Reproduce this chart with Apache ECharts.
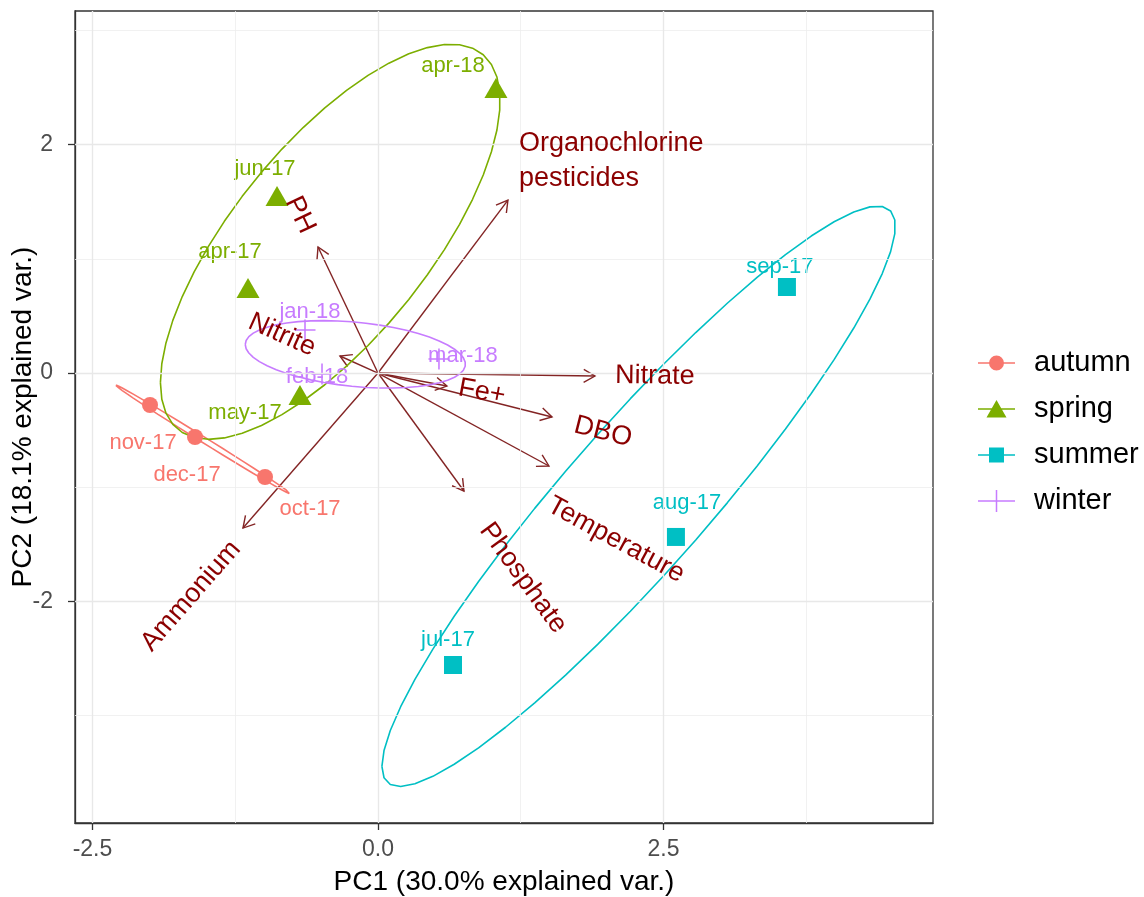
<!DOCTYPE html>
<html><head><meta charset="utf-8">
<script src="https://cdn.jsdelivr.net/npm/echarts@6/dist/echarts.min.js"></script>
<style>html,body{margin:0;padding:0;background:#fff}#chart{width:1144px;height:897px}</style>
</head><body><div id="chart"></div>
<script>
// ---------------- DATA ----------------
const groups = ['autumn', 'spring', 'summer', 'winter'];

const autumnNames = ['nov-17', 'dec-17', 'oct-17'];
const autumnPC1 = [-1.996, -1.602, -0.989];
const autumnPC2 = [-0.280, -0.560, -0.910];

const springNames = ['apr-18', 'jun-17', 'apr-17', 'may-17'];
const springPC1 = [1.033, -0.884, -1.138, -0.683];
const springPC2 = [2.495, 1.549, 0.744, -0.193];

const summerNames = ['sep-17', 'aug-17', 'jul-17'];
const summerPC1 = [3.581, 2.609, 0.657];
const summerPC2 = [0.753, -1.435, -2.556];

const winterNames = ['jan-18', 'feb-18', 'mar-18'];
const winterPC1 = [-0.639, -0.490, 0.534];
const winterPC2 = [0.376, -0.009, 0.123];

const varNames = ['Organochlorine\npesticides', 'PH', 'Nitrite', 'Nitrate', 'Fe+', 'DBO', 'Temperature', 'Phosphate', 'Ammonium'];
const varPC1 = [1.138, -0.525, -0.333, 1.900, 0.604, 1.524, 1.497, 0.753, -1.182];
const varPC2 = [1.514, 1.103, 0.149, -0.026, -0.114, -0.385, -0.814, -1.033, -1.357];

const xTicks = [-2.5, 0, 2.5];
const xTickLabels = ['-2.5', '0.0', '2.5'];
const yTicks = [-2, 0, 2];
const yTickLabels = ['-2', '0', '2'];
const xMinor = [-1.25, 1.25, 3.75];
const yMinor = [-3, -1, 1, 3];

const ellipseProb = 0.68;

// ---------------- STYLE ----------------
const FONT = '"Liberation Sans", Arial, sans-serif';
const groupColors = { autumn: '#F8766D', spring: '#7CAE00', summer: '#00BFC4', winter: '#C77CFF' };
const plusPath = 'path://M9.25,0 H10.75 V9.25 H20 V10.75 H10.75 V20 H9.25 V10.75 H0 V9.25 H9.25 Z';
const groupSymbols = {
  autumn: { symbol: 'circle', size: 16 },
  spring: { symbol: 'triangle', size: [23, 20] },
  summer: { symbol: 'rect', size: 18 },
  winter: { symbol: plusPath, size: 21 }
};
// sample label nudges in pixels [dx, dy]
const labelNudge = {
  'apr-18': [-43, -22], 'jun-17': [-12, -27], 'apr-17': [-18, -36], 'may-17': [-55, 18],
  'nov-17': [-7, 38], 'dec-17': [-8, 38], 'oct-17': [45, 32],
  'jan-18': [5, -18], 'feb-18': [-5, 3], 'mar-18': [24, -3],
  'sep-17': [-7, -20], 'aug-17': [11, -34], 'jul-17': [-5, -25]
};
// variable-name label centre offsets from arrow tip, pixels [dx, dy] (same order as varNames)
const varLabelNudge = [[11, -4], [-18, -32], [-58, -21], [60, 0], [35, 6], [51, 15], [67, 74], [59, 87], [-52, 68]];

const dot = 'M0,0 h0.01 v0.01 h-0.01 Z M36.99,21.99 h0.01 v0.01 h-0.01 Z ';
const lineBar = 'M0,10.25 H37 V11.75 H0 Z ';
const legendIcons = {
  autumn: 'path://' + dot + lineBar + 'M11,11 A7.5,7.5 0 1,1 26,11 A7.5,7.5 0 1,1 11,11 Z',
  spring: 'path://' + dot + lineBar + 'M18.5,2 L28.5,19.5 L8.5,19.5 Z',
  summer: 'path://' + dot + lineBar + 'M11,3.5 H26 V18.5 H11 Z',
  winter: 'path://' + dot + lineBar + 'M17.75,0 H19.25 V22 H17.75 Z'
};

const groupData = {
  autumn: [autumnNames, autumnPC1, autumnPC2],
  spring: [springNames, springPC1, springPC2],
  summer: [summerNames, summerPC1, summerPC2],
  winter: [winterNames, winterPC1, winterPC2]
};

// normal-probability ellipse (same construction as ggbiplot)
function ellipse(xs, ys) {
  const n = xs.length;
  const mx = xs.reduce((a, b) => a + b, 0) / n;
  const my = ys.reduce((a, b) => a + b, 0) / n;
  let sxx = 0, syy = 0, sxy = 0;
  for (let i = 0; i < n; i++) {
    const dx = xs[i] - mx, dy = ys[i] - my;
    sxx += dx * dx; syy += dy * dy; sxy += dx * dy;
  }
  sxx /= (n - 1); syy /= (n - 1); sxy /= (n - 1);
  const r11 = Math.sqrt(sxx), r12 = sxy / r11, r22 = Math.sqrt(Math.max(syy - r12 * r12, 0));
  const ed = Math.sqrt(-2 * Math.log(1 - ellipseProb));
  const pts = [];
  for (let k = 0; k < 50; k++) {
    const t = -Math.PI + 2 * Math.PI * k / 49;
    const c = Math.cos(t), s = Math.sin(t);
    pts.push([mx + ed * c * r11, my + ed * (c * r12 + s * r22)]);
  }
  return pts;
}

const series = [];

// grid lines
series.push({
  type: 'scatter', data: [], silent: true, z: 0, animation: false,
  markLine: {
    silent: true, symbol: ['none', 'none'], animation: false, label: { show: false },
    emphasis: { disabled: true },
    data: [
      ...xMinor.map(v => ({ xAxis: v, lineStyle: { color: '#EEEEEE', width: 0.8, type: 'solid' } })),
      ...yMinor.map(v => ({ yAxis: v, lineStyle: { color: '#EEEEEE', width: 0.8, type: 'solid' } })),
      ...xTicks.map(v => ({ xAxis: v, lineStyle: { color: '#E8E8E8', width: 1.4, type: 'solid' } })),
      ...yTicks.map(v => ({ yAxis: v, lineStyle: { color: '#E8E8E8', width: 1.4, type: 'solid' } }))
    ]
  }
});

// arrows
series.push({
  type: 'custom', coordinateSystem: 'cartesian2d', silent: true, z: 2, animation: false,
  encode: { x: 0, y: 1 },
  data: varPC1.map((v, i) => [v, varPC2[i]]),
  renderItem: function (params, api) {
    const p0 = api.coord([0, 0]);
    const p1 = api.coord([api.value(0), api.value(1)]);
    const ang = Math.atan2(p1[1] - p0[1], p1[0] - p0[0]);
    const L = 13, a = Math.PI / 6;
    const h1 = [p1[0] - L * Math.cos(ang - a), p1[1] - L * Math.sin(ang - a)];
    const h2 = [p1[0] - L * Math.cos(ang + a), p1[1] - L * Math.sin(ang + a)];
    const st = { stroke: '#832424', lineWidth: 1.4, fill: null };
    return {
      type: 'group', children: [
        { type: 'line', shape: { x1: p0[0], y1: p0[1], x2: p1[0], y2: p1[1] }, style: st },
        { type: 'polyline', shape: { points: [h1, p1, h2] }, style: st }
      ]
    };
  }
});

// ellipses
groups.forEach(g => {
  const d = groupData[g];
  series.push({
    name: g, type: 'line', data: ellipse(d[1], d[2]), showSymbol: false, symbol: 'none',
    lineStyle: { color: groupColors[g], width: 1.6 }, itemStyle: { color: groupColors[g] },
    silent: true, z: 3, animation: false
  });
});

// points with labels
groups.slice().reverse().forEach(g => {
  const d = groupData[g];
  series.unshift({
    name: g, type: 'scatter', symbol: groupSymbols[g].symbol, symbolSize: groupSymbols[g].size,
    itemStyle: { color: groupColors[g], opacity: 1 }, z: 4, animation: false, silent: true,
    label: {
      show: true, position: 'inside', formatter: '{b}', color: groupColors[g],
      fontSize: 22, fontFamily: FONT, textBorderWidth: 0
    },
    data: d[0].map((n, i) => ({ name: n, value: [d[1][i], d[2][i]], label: { offset: labelNudge[n] } }))
  });
});

// variable names
const VFONT = '27px ' + FONT;
series.push({
  type: 'custom', coordinateSystem: 'cartesian2d', silent: true, z: 6, animation: false,
  encode: { x: 0, y: 1 },
  data: varPC1.map((v, i) => [v, varPC2[i], i]),
  renderItem: function (params, api) {
    const x = api.value(0), y = api.value(1), idx = api.value(2);
    const name = varNames[idx];
    const p1 = api.coord([x, y]);
    const nudge = varLabelNudge[idx];
    if (name.indexOf('\n') >= 0) {
      return {
        type: 'text', x: p1[0] + nudge[0], y: p1[1] + nudge[1],
        style: { text: name, font: VFONT, fill: '#8B0000', align: 'left', verticalAlign: 'bottom',
                 textAlign: 'left', textVerticalAlign: 'bottom', lineHeight: 35 }
      };
    }
    const r = Math.atan(y / x);
    return {
      type: 'text', x: p1[0] + nudge[0], y: p1[1] + nudge[1], rotation: r,
      style: { text: name, font: VFONT, fill: '#8B0000', align: 'center', verticalAlign: 'middle',
               textAlign: 'center', textVerticalAlign: 'middle' }
    };
  }
});

const option = {
  animation: false,
  backgroundColor: '#fff',
  grid: { left: 75, top: 11, width: 858, height: 812, show: true, borderColor: '#333333', borderWidth: 1.3,
          backgroundColor: 'transparent', containLabel: false, outerBoundsMode: 'none' },
  xAxis: {
    type: 'value', min: -2.653, max: 4.860,
    name: 'PC1 (30.0% explained var.)', nameLocation: 'middle', nameGap: 45, nameMoveOverlap: false,
    nameTextStyle: { fontSize: 28, color: '#000', fontFamily: FONT },
    axisLine: { show: true, onZero: false, lineStyle: { color: '#333333', width: 1.3 } },
    axisTick: { show: true, customValues: xTicks, length: 7, lineStyle: { color: '#333333', width: 1.3 } },
    axisLabel: { show: true, customValues: xTicks, margin: 15, fontSize: 23, color: '#4D4D4D', fontFamily: FONT,
                 formatter: v => xTickLabels[xTicks.indexOf(v)] ?? String(v) },
    splitLine: { show: false }, minorSplitLine: { show: false }
  },
  yAxis: {
    type: 'value', min: -3.939, max: 3.169,
    name: 'PC2 (18.1% explained var.)', nameLocation: 'middle', nameGap: 38, nameRotate: 90, nameMoveOverlap: false,
    nameTextStyle: { fontSize: 28, color: '#000', fontFamily: FONT },
    axisLine: { show: true, onZero: false, lineStyle: { color: '#333333', width: 1.3 } },
    axisTick: { show: true, customValues: yTicks, length: 7, lineStyle: { color: '#333333', width: 1.3 } },
    axisLabel: { show: true, customValues: yTicks, margin: 22, fontSize: 23, color: '#4D4D4D', fontFamily: FONT,
                 formatter: v => yTickLabels[yTicks.indexOf(v)] ?? String(v) },
    splitLine: { show: false }, minorSplitLine: { show: false }
  },
  legend: {
    show: true, orient: 'vertical', left: 973, top: 343, itemWidth: 37, itemHeight: 22, itemGap: 16,
    selectedMode: false,
    textStyle: { fontSize: 29, color: '#000', fontFamily: FONT, lineHeight: 30, padding: [0, 0, 0, 14] },
    data: groups.map(g => ({ name: g, icon: legendIcons[g], itemStyle: { color: groupColors[g], borderWidth: 0 } }))
  },
  series: series
};

const chart = echarts.init(document.getElementById('chart'), null, { renderer: 'canvas' });
chart.setOption(option);
</script>
</body></html>
